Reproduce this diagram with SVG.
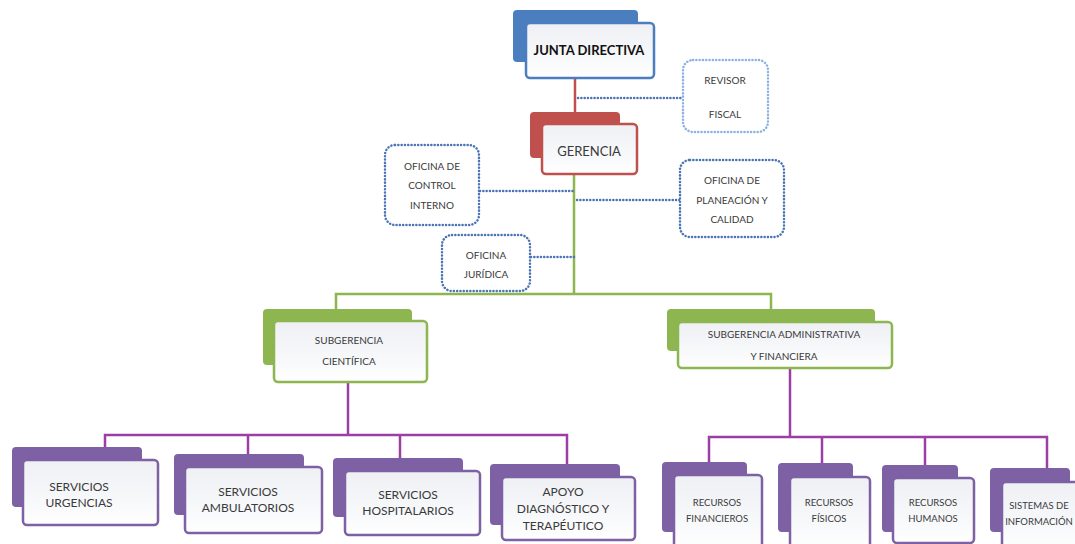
<svg xmlns="http://www.w3.org/2000/svg" width="1075" height="544" viewBox="0 0 1075 544">
<defs>
<linearGradient id="fg" x1="0" y1="0" x2="0" y2="1">
<stop offset="0" stop-color="#eef0f4"/>
<stop offset="0.6" stop-color="#f7f8fa"/>
<stop offset="1" stop-color="#ffffff"/>
</linearGradient>
</defs>
<style>
text{font-family:Lato,"Open Sans","Liberation Sans",sans-serif;fill:#3a3a3a;text-anchor:middle}
.blueB{fill:#4a7ebf}
.blueF{fill:url(#fg);stroke:#4a7ebf;stroke-width:2.5}
.redB{fill:#c0504d}
.redF{fill:url(#fg);stroke:#c0504d;stroke-width:2.5}
.grnB{fill:#8db550}
.grnF{fill:url(#fg);stroke:#8db550;stroke-width:2.5}
.purB{fill:#7e61a4}
.purF{fill:url(#fg);stroke:#7e61a4;stroke-width:2.5}
.dot{fill:#fff;stroke:#4a74b4;stroke-width:2.5;stroke-dasharray:0.1 3.2;stroke-linecap:round}
.dotL{fill:#fff;stroke:#8fb3e0;stroke-width:2.5;stroke-dasharray:0.1 3.2;stroke-linecap:round}
.cd{fill:none;stroke:#4a74b4;stroke-width:2.5;stroke-dasharray:0.1 3.2;stroke-linecap:round}
.cr{fill:none;stroke:#c0504d;stroke-width:2.5}
.cg{fill:none;stroke:#8db550;stroke-width:2.5}
.cp{fill:none;stroke:#9c3ea6;stroke-width:2.5}
.s10{font-size:10px}
.s9{font-size:9.5px}
.s12{font-size:12px}
</style>
<rect width="1075" height="544" fill="#ffffff"/>

<g id="connectors">
<path class="cr" d="M575 79 V125"/>
<path class="cd" d="M578 98 H683"/>
<path class="cg" d="M574 175 V294"/>
<path class="cd" d="M480 191 H574"/>
<path class="cd" d="M577 200 H680"/>
<path class="cd" d="M531 257 H574"/>
<path class="cg" d="M336 309 V294 H771 V309"/>
<path class="cp" d="M348 382 V435"/>
<path class="cp" d="M105 448 V435 H567 V464"/>
<path class="cp" d="M248 435 V454"/>
<path class="cp" d="M400 435 V458"/>
<path class="cp" d="M790 368 V437"/>
<path class="cp" d="M709 462 V437 H1047 V468"/>
<path class="cp" d="M822 437 V463"/>
<path class="cp" d="M925 437 V465"/>
</g>

<g id="junta-directiva">
<rect class="blueB" x="513" y="10" width="125" height="52" rx="4"/>
<rect class="blueF" x="526" y="23" width="128" height="55" rx="4"/>
<text x="589" y="55" style="font-size:13px;font-weight:bold;fill:#111">JUNTA DIRECTIVA</text>
</g>

<g id="revisor-fiscal">
<rect class="dotL" x="683" y="60" width="85" height="72" rx="10"/>
<text class="s10" x="725" y="84">REVISOR</text>
<text class="s10" x="725" y="118">FISCAL</text>
</g>

<g id="gerencia">
<rect class="redB" x="530" y="112" width="90" height="46" rx="4"/>
<rect class="redF" x="542" y="124" width="95" height="50" rx="4"/>
<text x="589" y="156" style="font-size:13px">GERENCIA</text>
</g>

<g id="oficina-control-interno">
<rect class="dot" x="385" y="145" width="94" height="80" rx="10"/>
<text class="s10" x="432" y="170">OFICINA DE</text>
<text class="s10" x="432" y="189">CONTROL</text>
<text class="s10" x="432" y="209">INTERNO</text>
</g>

<g id="oficina-planeacion">
<rect class="dot" x="680" y="160" width="104" height="77" rx="10"/>
<text class="s10" x="732" y="184">OFICINA DE</text>
<text class="s10" x="732" y="204">PLANEACIÓN Y</text>
<text class="s10" x="732" y="223">CALIDAD</text>
</g>

<g id="oficina-juridica">
<rect class="dot" x="442" y="235" width="88" height="56" rx="10"/>
<text class="s10" x="486" y="259">OFICINA</text>
<text class="s10" x="486" y="278">JURÍDICA</text>
</g>

<g id="subgerencia-cientifica">
<rect class="grnB" x="263" y="309" width="149" height="56" rx="4"/>
<rect class="grnF" x="274" y="321" width="153" height="61" rx="4"/>
<text class="s10" x="349" y="344">SUBGERENCIA</text>
<text class="s10" x="349" y="365">CIENTÍFICA</text>
</g>

<g id="subgerencia-administrativa">
<rect class="grnB" x="667" y="309" width="208" height="42" rx="4"/>
<rect class="grnF" x="678" y="322" width="214" height="46" rx="4"/>
<text class="s10" x="784" y="338">SUBGERENCIA  ADMINISTRATIVA</text>
<text class="s10" x="784" y="360">Y FINANCIERA</text>
</g>

<g id="servicios-urgencias">
<rect class="purB" x="12" y="447" width="130" height="60" rx="4"/>
<rect class="purF" x="23" y="460" width="135" height="65" rx="4"/>
<text class="s12" x="79" y="491">SERVICIOS</text>
<text class="s12" x="79" y="507">URGENCIAS</text>
</g>

<g id="servicios-ambulatorios">
<rect class="purB" x="174" y="454" width="130" height="61" rx="4"/>
<rect class="purF" x="185" y="467" width="137" height="66" rx="4"/>
<text class="s12" x="248" y="496">SERVICIOS</text>
<text class="s12" x="248" y="512">AMBULATORIOS</text>
</g>

<g id="servicios-hospitalarios">
<rect class="purB" x="333" y="458" width="130" height="59" rx="4"/>
<rect class="purF" x="345" y="471" width="135" height="64" rx="4"/>
<text class="s12" x="408" y="499">SERVICIOS</text>
<text class="s12" x="408" y="515">HOSPITALARIOS</text>
</g>

<g id="apoyo-diagnostico">
<rect class="purB" x="490" y="464" width="130" height="61" rx="4"/>
<rect class="purF" x="502" y="477" width="133" height="63" rx="4"/>
<text class="s12" x="563" y="496">APOYO</text>
<text class="s12" x="563" y="513">DIAGNÓSTICO Y</text>
<text class="s12" x="563" y="530">TERAPÉUTICO</text>
</g>

<g id="recursos-financieros">
<rect class="purB" x="662" y="462" width="85" height="70" rx="4"/>
<rect class="purF" x="674" y="475" width="88" height="75" rx="4"/>
<text class="s9" x="717" y="506">RECURSOS</text>
<text class="s9" x="717" y="522">FINANCIEROS</text>
</g>

<g id="recursos-fisicos">
<rect class="purB" x="778" y="463" width="75" height="69" rx="4"/>
<rect class="purF" x="790" y="477" width="80" height="73" rx="4"/>
<text class="s9" x="829" y="506">RECURSOS</text>
<text class="s9" x="829" y="522">FÍSICOS</text>
</g>

<g id="recursos-humanos">
<rect class="purB" x="882" y="465" width="76" height="67" rx="4"/>
<rect class="purF" x="893" y="478" width="81" height="65" rx="4"/>
<text class="s9" x="933" y="506">RECURSOS</text>
<text class="s9" x="933" y="522">HUMANOS</text>
</g>

<g id="sistemas-informacion">
<rect class="purB" x="990" y="468" width="80" height="64" rx="4"/>
<rect class="purF" x="1002" y="482" width="80" height="70" rx="4"/>
<text class="s9" x="1039" y="509">SISTEMAS DE</text>
<text class="s9" x="1039" y="525">INFORMACIÓN</text>
</g>
</svg>
